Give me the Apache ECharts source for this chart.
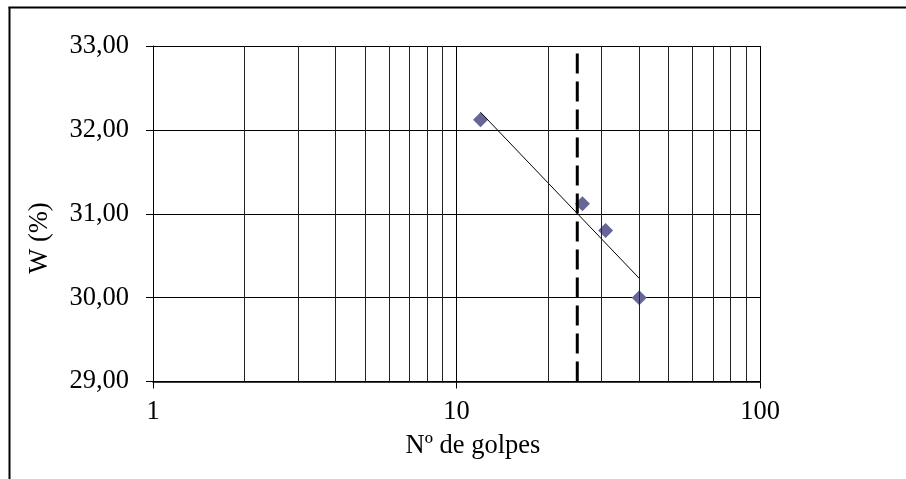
<!DOCTYPE html>
<html><head><meta charset="utf-8">
<script src="https://cdn.jsdelivr.net/npm/echarts@6/dist/echarts.min.js"></script>
<style>html,body{margin:0;padding:0;background:#fff}#c{width:906px;height:479px}</style>
</head><body><div id="c"></div>
<script>
const golpes = [12, 26, 31, 40];
const humedad = [32.12, 31.12, 30.80, 30.00];
const trendX = [12, 40];
const trendY = [32.21, 30.23];
const limiteX = [25, 25];
const limiteY = [29, 33];
const minorGridX = [2, 3, 4, 5, 6, 7, 8, 9, 20, 30, 40, 50, 60, 70, 80, 90];
const yTicks = [29, 30, 31, 32, 33];
const xTicks = [1, 10, 100];
const xTitle = 'Nº de golpes';
const yTitle = 'W (%)';

const font = 'Liberation Serif, Times New Roman, serif';
const fs = 26.5;
const chart = echarts.init(document.getElementById('c'), null, {renderer: 'canvas'});
chart.setOption({
  animation: false,
  backgroundColor: '#fff',
  grid: {left: 153, top: 46, right: 146, bottom: 97.5, containLabel: false},
  xAxis: {
    type: 'log', logBase: 10, min: xTicks[0], max: xTicks[xTicks.length - 1],
    axisLine: {show: true, lineStyle: {color: '#000', width: 1.5}},
    axisTick: {show: true, length: 7, inside: false, lineStyle: {color: '#000'}},
    axisLabel: {color: '#000', fontFamily: font, fontSize: fs, margin: 17,
      formatter: v => String(Math.round(v))},
    splitLine: {show: true, lineStyle: {color: '#000', width: 1}},
    minorTick: {show: false}, minorSplitLine: {show: false}
  },
  yAxis: {
    type: 'value', min: yTicks[0], max: yTicks[yTicks.length - 1], interval: 1,
    axisLine: {show: true, lineStyle: {color: '#000', width: 1}},
    axisTick: {show: true, length: 7, inside: false, lineStyle: {color: '#000'}},
    axisLabel: {color: '#000', fontFamily: font, fontSize: fs, margin: 24,
      formatter: v => v.toFixed(2).replace('.', ',')},
    splitLine: {show: true, lineStyle: {color: '#000', width: 1}}
  },
  graphic: [
    {type: 'line', shape: {x1: 9.5, y1: 7, x2: 9.5, y2: 479}, style: {stroke: '#000', lineWidth: 2}},
    {type: 'line', shape: {x1: 8.5, y1: 7.5, x2: 906, y2: 7.5}, style: {stroke: '#000', lineWidth: 2}},
    {type: 'text', x: 473, y: 446, style: {text: xTitle, font: fs + 'px ' + font, fill: '#000', textAlign: 'center', textVerticalAlign: 'middle'}},
    {type: 'text', x: 40, y: 238, rotation: Math.PI / 2, style: {text: yTitle, font: fs + 'px ' + font, fill: '#000', textAlign: 'center', textVerticalAlign: 'middle'}}
  ],
  series: [
    {
      type: 'line', name: 'grid', data: [], silent: true, symbol: 'none',
      markLine: {silent: true, symbol: 'none', label: {show: false},
        lineStyle: {color: '#222', width: 1, type: 'solid'},
        data: minorGridX.map(v => ({xAxis: v}))}
    },
    {
      type: 'line', name: 'limite', symbol: 'none', silent: true,
      lineStyle: {color: '#000', width: 3, type: [20, 8]},
      data: limiteX.map((x, i) => [x, limiteY[i]])
    },
    {
      type: 'line', name: 'tendencia', symbol: 'none', silent: true,
      lineStyle: {color: '#000', width: 1},
      data: trendX.map((x, i) => [x, trendY[i]])
    },
    {
      type: 'scatter', name: 'W', symbol: 'diamond', symbolSize: 15,
      itemStyle: {color: '#666699', opacity: 1},
      data: golpes.map((x, i) => [x, humedad[i]])
    }
  ]
});
</script></body></html>
